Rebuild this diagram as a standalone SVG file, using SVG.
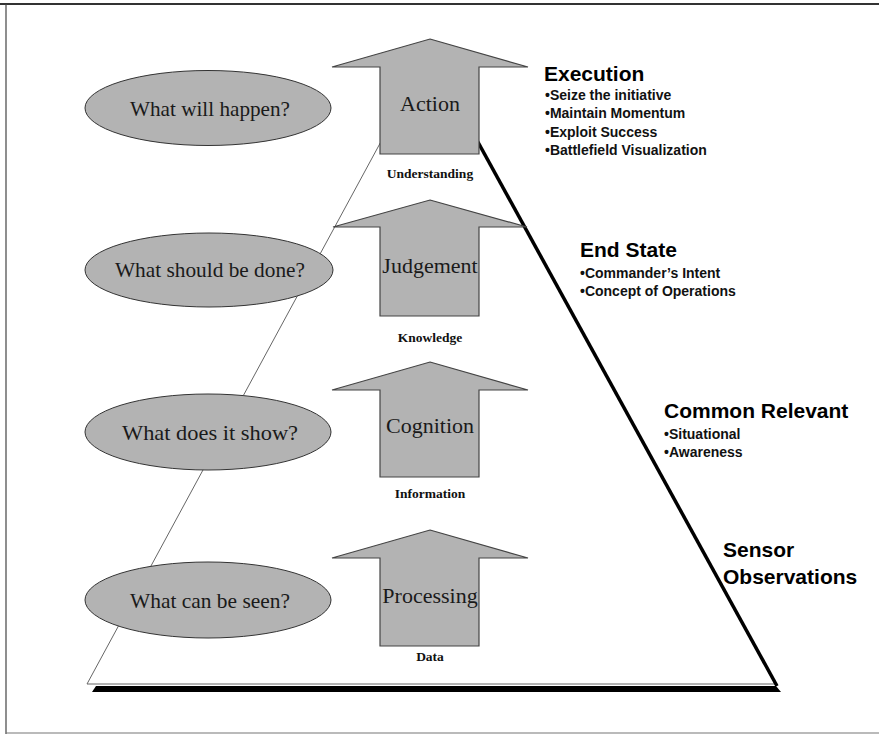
<svg xmlns="http://www.w3.org/2000/svg" width="879" height="734" viewBox="0 0 879 734">
<style>
.ell{fill:#b3b3b3;stroke:#333;stroke-width:1}
.arr{fill:#b3b3b3;stroke:#444;stroke-width:1.2}
.q{font-family:"Liberation Serif",serif;font-size:22px;fill:#1a1a1a;text-anchor:middle}
.al{font-family:"Liberation Serif",serif;font-size:22px;fill:#1a1a1a;text-anchor:middle}
.lv{font-family:"Liberation Serif",serif;font-size:13.5px;font-weight:bold;fill:#111;text-anchor:middle}
.h{font-family:"Liberation Sans",sans-serif;font-size:21px;font-weight:bold;fill:#000}
.b{font-family:"Liberation Sans",sans-serif;font-size:14px;font-weight:bold;fill:#111}
</style>
<rect width="879" height="734" fill="#fff"/>
<g id="frame" fill="none">
<line x1="0" y1="4" x2="879" y2="4" stroke="#333" stroke-width="2"/>
<line x1="6" y1="4" x2="6" y2="734" stroke="#444" stroke-width="1.2"/>
<line x1="6" y1="733" x2="879" y2="733" stroke="#777" stroke-width="1.2"/>
</g>
<g id="pyramid">
<polygon points="96,686 776,686 781,692 92,692" fill="#000"/>
<polygon points="429,53 775,684 87,684" fill="#fff" stroke="#666" stroke-width="1"/>
<line x1="429" y1="53" x2="777" y2="686" stroke="#000" stroke-width="3.5"/>
</g>
<g id="connectors"></g>
<g id="q1"><ellipse class="ell" cx="208" cy="108" rx="123" ry="37.5"/><text class="q" x="210" y="116" textLength="160" lengthAdjust="spacingAndGlyphs">What will happen?</text></g>
<g id="q2"><ellipse class="ell" cx="209" cy="270" rx="124" ry="37"/><text class="q" x="210" y="277" textLength="190" lengthAdjust="spacingAndGlyphs">What should be done?</text></g>
<g id="q3"><ellipse class="ell" cx="208" cy="432" rx="123" ry="38"/><text class="q" x="210" y="440" textLength="176" lengthAdjust="spacingAndGlyphs">What does it show?</text></g>
<g id="q4"><ellipse class="ell" cx="208" cy="600" rx="123" ry="38"/><text class="q" x="210" y="608" textLength="160" lengthAdjust="spacingAndGlyphs">What can be seen?</text></g>
<g id="action"><polygon class="arr" points="430,39 528,67 479,67 479,154 380,154 380,67 332,67"/><text class="al" x="430" y="111">Action</text><text class="lv" x="430" y="178">Understanding</text></g>
<g id="judgement"><polygon class="arr" points="430,200 527,227 479,227 479,316 380,316 380,227 333,227"/><text class="al" x="430" y="273">Judgement</text><text class="lv" x="430" y="342">Knowledge</text></g>
<g id="cognition"><polygon class="arr" points="430,362 528,390 479,390 479,477 380,477 380,390 332,390"/><text class="al" x="430" y="433">Cognition</text><text class="lv" x="430" y="498">Information</text></g>
<g id="processing"><polygon class="arr" points="430,530 528,558 479,558 479,646 380,646 380,558 332,558"/><text class="al" x="430" y="603">Processing</text><text class="lv" x="430" y="661">Data</text></g>
<g id="execution"><text class="h" x="544" y="81">Execution</text>
<text class="b" x="545" y="100">•Seize the initiative</text>
<text class="b" x="545" y="118">•Maintain Momentum</text>
<text class="b" x="545" y="137">•Exploit Success</text>
<text class="b" x="545" y="155">•Battlefield Visualization</text></g>
<g id="endstate"><text class="h" x="580" y="257">End State</text>
<text class="b" x="580" y="278">•Commander’s Intent</text>
<text class="b" x="580" y="296">•Concept of Operations</text></g>
<g id="common"><text class="h" x="664" y="418">Common Relevant</text>
<text class="b" x="664" y="439">•Situational</text>
<text class="b" x="664" y="457">•Awareness</text></g>
<g id="sensor"><text class="h" x="723" y="557">Sensor</text><text class="h" x="723" y="584">Observations</text></g>
</svg>
